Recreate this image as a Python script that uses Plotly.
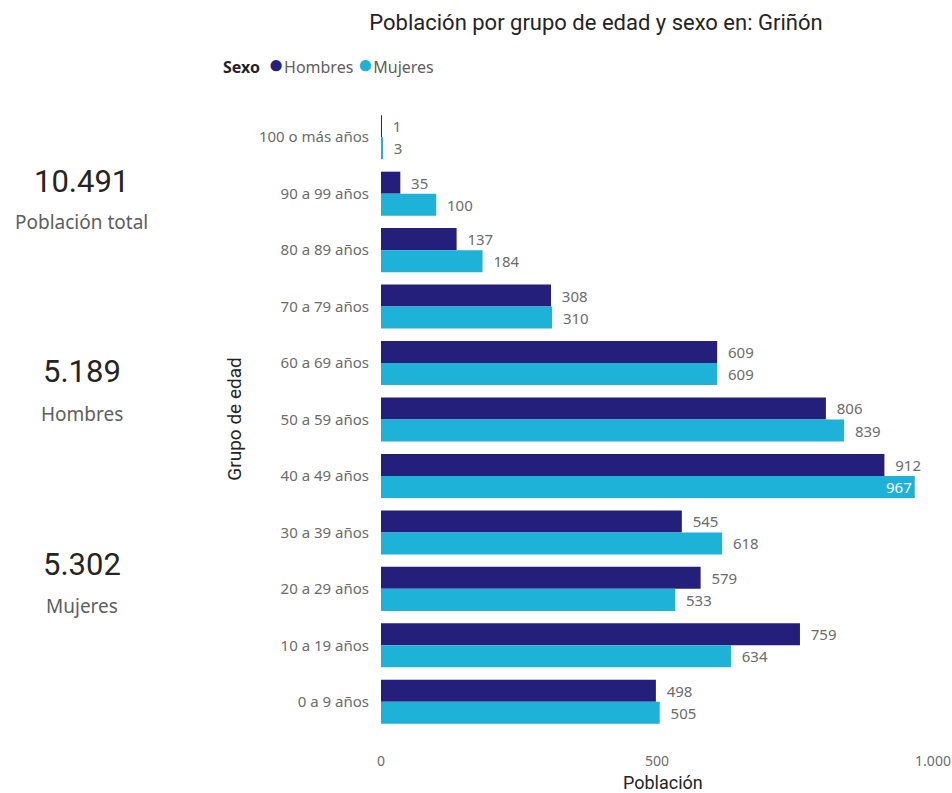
import plotly.graph_objects as go

categorias = ["100 o más años", "90 a 99 años", "80 a 89 años", "70 a 79 años",
              "60 a 69 años", "50 a 59 años", "40 a 49 años", "30 a 39 años",
              "20 a 29 años", "10 a 19 años", "0 a 9 años"]
hombres = [1, 35, 137, 308, 609, 806, 912, 545, 579, 759, 498]
mujeres = [3, 100, 184, 310, 609, 839, 967, 618, 533, 634, 505]
x_ticks = [0, 500, 1000]
x_tick_labels = ["0", "500", "1.000"]

COL_H = "#241f7b"
COL_M = "#1fb2d8"
GREY = "#6b6b6b"
DARK = "#252423"
SANS = "Noto Sans, Open Sans, sans-serif"
DIN = "Roboto, sans-serif"


def fmt(n):
    return f"{n:,}".replace(",", ".")


def labels(vals, limit=950):
    return [fmt(v) if v >= limit else "\u00a0\u00a0" + fmt(v) for v in vals]


def positions(vals, limit=950):
    return ["inside" if v >= limit else "outside" for v in vals]


def colors(vals, limit=950):
    return ["white" if v >= limit else GREY for v in vals]


fig = go.Figure()
for name, vals, col in [("Hombres", hombres, COL_H), ("Mujeres", mujeres, COL_M)]:
    fig.add_trace(go.Bar(
        name=name, y=categorias, x=vals, orientation="h",
        marker=dict(color=col, line=dict(width=0)),
        text=labels(vals), textposition=positions(vals),
        insidetextanchor="end", textangle=0, constraintext="none",
        textfont=dict(family=SANS, size=15, color=colors(vals)),
        cliponaxis=False, showlegend=False,
    ))

total_h = sum(hombres)
total_m = sum(mujeres)
total = total_h + total_m

annotations = []
kpis = [(total, "Población total", 0.884, 0.818),
        (total_h, "Hombres", 0.578, 0.509),
        (total_m, "Mujeres", 0.266, 0.200)]
for val, lab, yv, yl in kpis:
    annotations.append(dict(x=-0.542, y=yv, xref="paper", yref="paper",
                            text=fmt(val), showarrow=False,
                            font=dict(family=DIN, size=31, color=DARK),
                            xanchor="center", yanchor="middle"))
    annotations.append(dict(x=-0.542, y=yl, xref="paper", yref="paper",
                            text=lab, showarrow=False,
                            font=dict(family=SANS, size=19, color="#605e5c"),
                            xanchor="center", yanchor="middle"))

annotations.append(dict(x=-0.266, y=0.5, xref="paper", yref="paper",
                        text="Grupo de edad", textangle=-90, showarrow=False,
                        font=dict(family=DIN, size=19, color=DARK),
                        xanchor="center", yanchor="middle"))
annotations.append(dict(x=0.51, y=-0.084, xref="paper", yref="paper",
                        text="Población", showarrow=False,
                        font=dict(family=DIN, size=18, color=DARK),
                        xanchor="center", yanchor="middle"))

legend_text = (f"<span style='color:{DARK}'><b>Sexo</b></span>\u00a0\u00a0"
               f"<span style='color:{COL_H};font-size:26px'>●</span>Hombres\u00a0"
               f"<span style='color:{COL_M};font-size:26px'>●</span>Mujeres")
annotations.append(dict(x=-0.290, y=1.074, xref="paper", yref="paper",
                        text=legend_text, showarrow=False,
                        font=dict(family=SANS, size=16, color="#605e5c"),
                        xanchor="left", yanchor="middle"))

fig.update_layout(
    width=952, height=793,
    margin=dict(l=381, r=19, t=109, b=63),
    paper_bgcolor="white", plot_bgcolor="white",
    barmode="group", bargap=0.22, bargroupgap=0,
    title=dict(text="Población por grupo de edad y sexo en: Griñón",
               x=0.626, xanchor="center", y=0.972, yanchor="middle",
               font=dict(family=DIN, size=22, color=DARK)),
    xaxis=dict(range=[0, 1000], tickvals=x_ticks, ticktext=x_tick_labels,
               showgrid=False, zeroline=False, showline=False, automargin=False,
               ticks="outside", ticklen=18, tickcolor="rgba(0,0,0,0)",
               tickfont=dict(family=SANS, size=14, color=GREY)),
    yaxis=dict(autorange="reversed", showgrid=False, zeroline=False, showline=False,
               automargin=False,
               ticks="outside", ticklen=8, tickcolor="rgba(0,0,0,0)",
               tickfont=dict(family=SANS, size=15, color=GREY)),
    annotations=annotations,
    showlegend=False,
)

fig.write_html(
    "out.html",
    config={"displayModeBar": False},
    post_script="document.body.style.margin='0';document.body.style.overflow='hidden';",
)
